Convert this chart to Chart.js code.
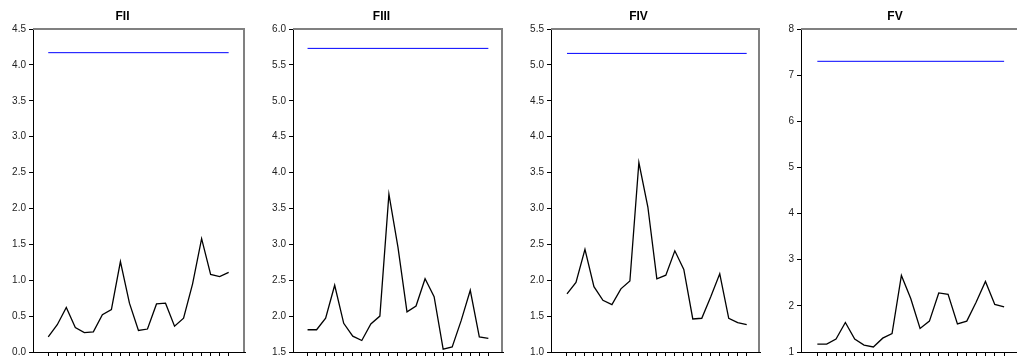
<!DOCTYPE html>
<html>
<head>
<meta charset="utf-8">
<script src="https://cdn.jsdelivr.net/npm/chart.js@4.4.1/dist/chart.umd.min.js"></script>
<style>
html, body { margin: 0; padding: 0; background: #fff; overflow: hidden; width: 1017px; height: 358px; }
canvas { position: absolute; top: 0; }
</style>
</head>
<body>
<canvas id="c0" width="255" height="358" style="left:0px"></canvas>
<canvas id="c1" width="253" height="358" style="left:260px"></canvas>
<canvas id="c2" width="266" height="358" style="left:517px"></canvas>
<canvas id="c3" width="270" height="358" style="left:770px"></canvas>
<script>
// panel data
const titles = ["FII", "FIII", "FIV", "FV"];
const fii  = [0.21, 0.38, 0.62, 0.34, 0.27, 0.28, 0.52, 0.59, 1.26, 0.68, 0.30, 0.32, 0.67, 0.68, 0.36, 0.47, 0.95, 1.58, 1.08, 1.05, 1.11];
const fiii = [1.81, 1.81, 1.97, 2.43, 1.90, 1.72, 1.66, 1.89, 2.00, 3.70, 2.96, 2.06, 2.14, 2.52, 2.27, 1.54, 1.57, 1.94, 2.36, 1.71, 1.69];
const fiv  = [1.81, 1.97, 2.43, 1.91, 1.72, 1.66, 1.88, 1.99, 3.64, 3.02, 2.02, 2.07, 2.41, 2.15, 1.46, 1.47, 1.77, 2.09, 1.47, 1.41, 1.38];
const fv   = [1.17, 1.17, 1.28, 1.64, 1.28, 1.15, 1.11, 1.30, 1.40, 2.66, 2.16, 1.51, 1.67, 2.28, 2.25, 1.61, 1.67, 2.08, 2.53, 2.03, 1.98];
const limits = [4.17, 5.73, 5.16, 7.30];
const yMin  = [0, 1.5, 1.0, 1];
const yMax  = [4.5, 6.0, 5.5, 8];
const yStep = [0.5, 0.5, 0.5, 1];

const series = [fii, fiii, fiv, fv];

// layout per panel
const axisW = [33, 33, 34, 31];
const padR  = [10, 10, 23, 20];
const xMin  = [-1.69, -1.61, -1.78, -1.75];
const xMax  = [21.81, 21.62, 21.48, 21.70];

const frame = {
  id: "frame",
  afterDraw(c) {
    const a = c.chartArea, ctx = c.ctx;
    ctx.save();
    ctx.strokeStyle = "#808080";
    ctx.lineWidth = 2;
    ctx.beginPath();
    ctx.moveTo(a.left, a.top);
    ctx.lineTo(a.right - 1, a.top);
    ctx.lineTo(a.right - 1, a.bottom);
    ctx.stroke();
    ctx.restore();
  }
};

series.forEach(function(vals, i) {
  const n = vals.length;
  new Chart(document.getElementById("c" + i), {
    type: "line",
    data: {
      datasets: [
        {
          data: [{x: 0, y: limits[i]}, {x: n - 1, y: limits[i]}],
          borderColor: "#0000ff",
          borderWidth: 1,
          pointRadius: 0
        },
        {
          data: vals.map((v, k) => ({x: k, y: v})),
          borderColor: "#000",
          borderWidth: 1.3,
          pointRadius: 0,
          tension: 0
        }
      ]
    },
    options: {
      responsive: false,
      animation: false,
      devicePixelRatio: 1,
      layout: { padding: { left: 0, right: padR[i], top: 0, bottom: 0 } },
      plugins: {
        legend: { display: false },
        tooltip: { enabled: false },
        title: {
          display: true,
          text: titles[i],
          color: "#000",
          font: { family: "'Liberation Sans', Arial, sans-serif", size: 12, weight: "bold" },
          padding: { top: 9.5, bottom: 5.1 }
        }
      },
      scales: {
        x: {
          type: "linear",
          min: xMin[i],
          max: xMax[i],
          afterBuildTicks: s => { s.ticks = vals.map((v, k) => ({value: k})); },
          afterFit: s => { s.height = 6; },
          ticks: { display: false },
          grid: { drawOnChartArea: false, tickLength: 4, color: "#000" },
          border: { color: "#000", width: 1 }
        },
        y: {
          min: yMin[i],
          max: yMax[i],
          afterFit: s => { s.width = axisW[i]; s.paddingTop = 0; s.paddingBottom = 0; },
          ticks: {
            stepSize: yStep[i],
            padding: 3,
            color: "#222",
            font: { family: "'Liberation Sans', Arial, sans-serif", size: 10 },
            callback: v => yStep[i] < 1 ? v.toFixed(1) : v
          },
          grid: { drawOnChartArea: false, tickLength: 4, color: "#000" },
          border: { color: "#000", width: 1 }
        }
      }
    },
    plugins: [frame]
  });
});
</script>
</body>
</html>
